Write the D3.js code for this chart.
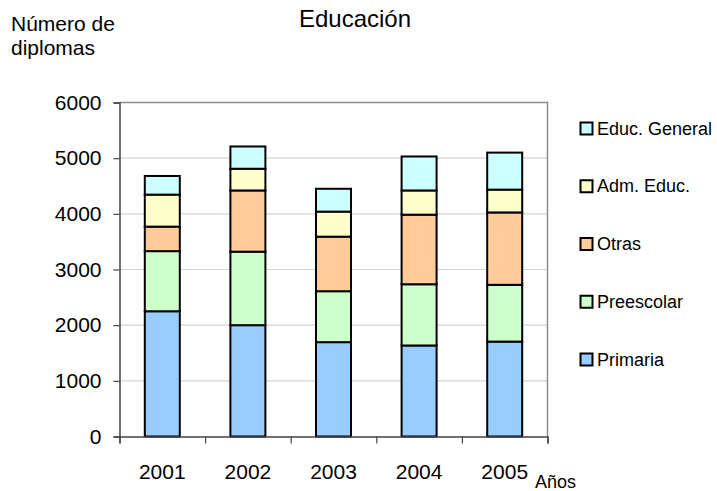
<!doctype html>
<html>
<head>
<meta charset="utf-8">
<script src="https://d3js.org/d3.v7.min.js"></script>
<style>
  body { margin: 0; background: #fff; }
  text { font-family: "Liberation Sans", Arial, sans-serif; fill: #000; }
</style>
</head>
<body>
<svg width="717" height="491"></svg>
<script>
// data
var years = ["2001", "2002", "2003", "2004", "2005"];
var seriesNames = ["Primaria", "Preescolar", "Otras", "Adm. Educ.", "Educ. General"];
var primaria   = [2250, 2000, 1695, 1635, 1705];
var preescolar = [1080, 1320,  915, 1100, 1020];
var otras      = [ 440, 1100,  980, 1250, 1300];
var admEduc    = [ 575,  390,  450,  435,  410];
var educGen    = [ 335,  400,  410,  610,  665];
var yTicks = [0, 1000, 2000, 3000, 4000, 5000, 6000];
var colors = ["#99ccff", "#ccffcc", "#ffcc99", "#ffffcc", "#ccffff"];

var svg = d3.select("svg");
var plotL = 119.5, plotR = 547.5, plotT = 102.5, plotB = 436.5;

var rows = years.map(function(y, i) {
  return { year: y, "Primaria": primaria[i], "Preescolar": preescolar[i], "Otras": otras[i],
           "Adm. Educ.": admEduc[i], "Educ. General": educGen[i] };
});
var stacked = d3.stack().keys(seriesNames)(rows);

var x = d3.scaleBand().domain(years).range([plotL, plotR]);
var xEdge = d3.scaleLinear().domain([0, years.length]).range([plotL, plotR]);
var y = d3.scaleLinear().domain([0, 6000]).range([plotB, plotT]);

// gridlines
svg.append("g").selectAll("line")
  .data(yTicks.slice(1, -1))
  .enter().append("line")
  .attr("x1", plotL).attr("x2", plotR)
  .attr("y1", d => y(d)).attr("y2", d => y(d))
  .attr("stroke", "#d4d4d4").attr("stroke-width", 1.2);

// plot frame top and right
svg.append("path")
  .attr("d", "M" + plotL + "," + plotT + "H" + plotR + "V" + plotB)
  .attr("fill", "none").attr("stroke", "#8c8c8c").attr("stroke-width", 1.5);

// bars
var barW = 35;
svg.append("g").selectAll("g")
  .data(stacked)
  .enter().append("g")
  .attr("fill", (d, i) => colors[i])
  .selectAll("rect")
  .data(d => d)
  .enter().append("rect")
  .attr("x", d => x(d.data.year) + x.bandwidth() / 2 - barW / 2)
  .attr("width", barW)
  .attr("y", d => y(d[1]))
  .attr("height", d => y(d[0]) - y(d[1]))
  .attr("stroke", "#000").attr("stroke-width", 2);

// y axis
var yAxis = svg.append("g")
  .attr("transform", "translate(" + plotL + ",0)")
  .call(d3.axisLeft(y).tickValues(yTicks).tickSize(6).tickPadding(12).tickFormat(d3.format("d")));
yAxis.select(".domain").attr("stroke", "#444").attr("stroke-width", 1.5);
yAxis.selectAll(".tick line").attr("stroke", "#444").attr("stroke-width", 1.2);
yAxis.selectAll("text").style("font-size", "21px").attr("fill", "#000");

// x axis: ticks at category boundaries
var xTickAxis = svg.append("g")
  .attr("transform", "translate(0," + plotB + ")")
  .call(d3.axisBottom(xEdge).ticks(years.length).tickSize(7).tickFormat(""));
xTickAxis.select(".domain").attr("stroke", "#444").attr("stroke-width", 1.5);
xTickAxis.selectAll(".tick line").attr("stroke", "#444").attr("stroke-width", 1.2);

var xLabels = svg.append("g")
  .attr("transform", "translate(0," + plotB + ")")
  .call(d3.axisBottom(x).tickSize(0));
xLabels.select(".domain").remove();
xLabels.selectAll("text").attr("y", 42).attr("dy", null)
  .style("font-size", "21px").attr("fill", "#000");

// titles
svg.append("text").attr("x", 355).attr("y", 27).attr("text-anchor", "middle")
  .style("font-size", "24px").text("Educación");
svg.append("text").attr("x", 11).attr("y", 31).style("font-size", "21px").text("Número de");
svg.append("text").attr("x", 11).attr("y", 55).style("font-size", "21px").text("diplomas");
svg.append("text").attr("x", 535).attr("y", 488).style("font-size", "18px").text("Años");

// legend, top entry is the last series
var legendY = d3.scalePoint().domain(seriesNames.slice().reverse()).range([128, 359]);
var legend = svg.append("g").selectAll("g")
  .data(seriesNames)
  .enter().append("g")
  .attr("transform", d => "translate(580," + legendY(d) + ")");
legend.append("rect")
  .attr("x", 0.5).attr("y", -5.5).attr("width", 12).attr("height", 12)
  .attr("fill", (d, i) => colors[i]).attr("stroke", "#000").attr("stroke-width", 2);
legend.append("text")
  .attr("x", 17).attr("y", 6.5)
  .style("font-size", "18px").text(d => d);
</script>
</body>
</html>
